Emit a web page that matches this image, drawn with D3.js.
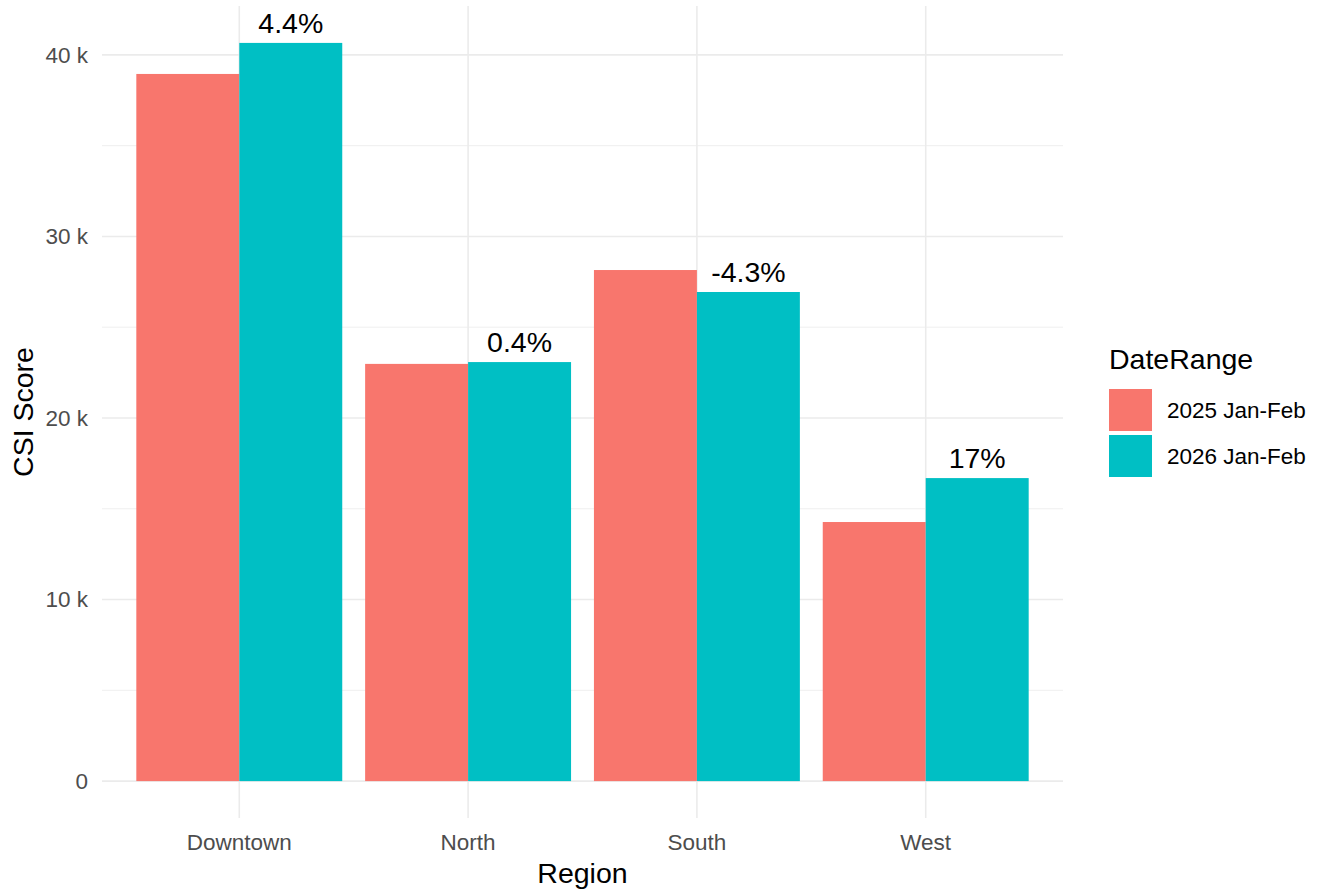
<!DOCTYPE html>
<html><head><meta charset="utf-8">
<script src="https://cdn.jsdelivr.net/npm/d3@7"></script>
<style>body{margin:0;background:#fff}svg{display:block;font-family:"Liberation Sans",Arial,sans-serif}</style>
</head><body>
<svg id="c" width="1322" height="890"></svg>
<script>
const regions = ["Downtown", "North", "South", "West"];
const series = ["2025 Jan-Feb", "2026 Jan-Feb"];
const values2025 = [38950, 22980, 28150, 14270];
const values2026 = [40660, 23080, 26940, 16690];
const pctLabels = ["4.4%", "0.4%", "-4.3%", "17%"];
const yTicks = [0, 10000, 20000, 30000, 40000];
const yTickLabels = ["0", "10 k", "20 k", "30 k", "40 k"];
const colors = ["#F8766D", "#00BFC4"];

const svg = d3.select("#c");
const L = 102, R = 1063, T = 6, B = 818;
const maxV = d3.max(values2026.concat(values2025));
const pad = maxV * 0.05;
const y = d3.scaleLinear().domain([-pad, maxV + pad]).range([B, T]);
const step = (R - L) / (regions.length - 1 + 1.2);
const xc = d3.scalePoint().domain(regions).range([L + 0.6 * step, R - 0.6 * step]);
const groupW = 0.9 * step;
const xs = d3.scaleBand().domain(series).range([-groupW / 2, groupW / 2]).padding(0);

const g = svg.append("g");
const minor = [5000, 15000, 25000, 35000];
g.selectAll(".mn").data(minor).enter().append("line")
  .attr("x1", L).attr("x2", R).attr("y1", d => y(d)).attr("y2", d => y(d))
  .attr("stroke", "#EBEBEB").attr("stroke-width", 0.8);
g.selectAll(".mj").data(yTicks).enter().append("line")
  .attr("x1", L).attr("x2", R).attr("y1", d => y(d)).attr("y2", d => y(d))
  .attr("stroke", "#EBEBEB").attr("stroke-width", 1.6);
g.selectAll(".vx").data(regions).enter().append("line")
  .attr("x1", d => xc(d)).attr("x2", d => xc(d)).attr("y1", T).attr("y2", B)
  .attr("stroke", "#EBEBEB").attr("stroke-width", 1.6);

const data = [];
regions.forEach((r, i) => {
  data.push({r, s: series[0], v: values2025[i]});
  data.push({r, s: series[1], v: values2026[i], lab: pctLabels[i]});
});
g.selectAll(".bar").data(data).enter().append("rect")
  .attr("x", d => xc(d.r) + xs(d.s)).attr("width", xs.bandwidth())
  .attr("y", d => y(d.v)).attr("height", d => y(0) - y(d.v))
  .attr("fill", d => colors[series.indexOf(d.s)]);
g.selectAll(".lab").data(data.filter(d => d.lab)).enter().append("text")
  .attr("x", d => xc(d.r) + xs(d.s) + xs.bandwidth() / 2)
  .attr("y", d => y(d.v) - 10).attr("text-anchor", "middle")
  .attr("font-size", 28.5).attr("fill", "#000").text(d => d.lab);

g.selectAll(".yt").data(yTicks).enter().append("text")
  .attr("x", 88).attr("y", d => y(d)).attr("dy", "0.35em").attr("text-anchor", "end")
  .attr("font-size", 22.5).attr("fill", "#4D4D4D").text((d, i) => yTickLabels[i]);
g.selectAll(".xt").data(regions).enter().append("text")
  .attr("x", d => xc(d)).attr("y", 850).attr("text-anchor", "middle")
  .attr("font-size", 22.5).attr("fill", "#4D4D4D").text(d => d);

svg.append("text").attr("x", (L + R) / 2).attr("y", 883).attr("text-anchor", "middle")
  .attr("font-size", 28.5).attr("fill", "#000").text("Region");
svg.append("text").attr("transform", `translate(33,${(T + B) / 2}) rotate(-90)`)
  .attr("text-anchor", "middle").attr("font-size", 28.5).attr("fill", "#000").text("CSI Score");

const lg = svg.append("g");
lg.append("text").attr("x", 1109).attr("y", 369).attr("font-size", 28.5).attr("fill", "#000").text("DateRange");
series.forEach((s, i) => {
  const yy = 389 + i * 46;
  lg.append("rect").attr("x", 1109).attr("y", yy).attr("width", 43).attr("height", 42).attr("fill", colors[i]);
  lg.append("text").attr("x", 1167).attr("y", yy + 21).attr("dy", "0.35em")
    .attr("font-size", 22.5).attr("fill", "#000").text(s);
});
</script>
</body></html>
